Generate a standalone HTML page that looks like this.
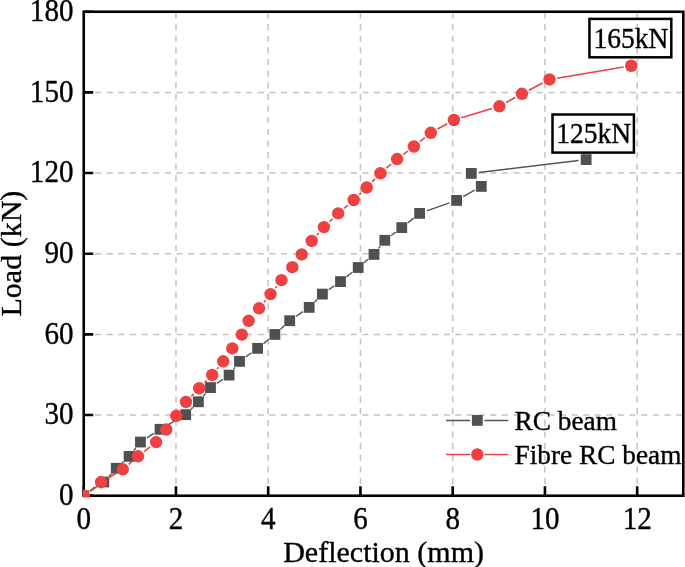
<!DOCTYPE html>
<html><head><meta charset="utf-8"><style>
html,body{margin:0;padding:0;background:#fff;}
svg{display:block;will-change:transform;}
text{font-family:"Liberation Serif",serif;fill:#000;stroke:#000;stroke-width:0.35px;}
</style></head><body>
<svg width="685" height="567" viewBox="0 0 685 567">
<defs><clipPath id="c"><rect x="82.9" y="10" width="601.6" height="487.2"/></clipPath></defs>
<g stroke="#C3C3C3" stroke-width="1.5" fill="none"><line x1="175.97" y1="12.35" x2="175.97" y2="495.74" stroke-dasharray="6.2 5.44"/><line x1="268.21" y1="12.35" x2="268.21" y2="495.74" stroke-dasharray="6.2 5.44"/><line x1="360.45" y1="12.35" x2="360.45" y2="495.74" stroke-dasharray="6.2 5.44"/><line x1="452.70" y1="12.35" x2="452.70" y2="495.74" stroke-dasharray="6.2 5.44"/><line x1="544.94" y1="12.35" x2="544.94" y2="495.74" stroke-dasharray="6.2 5.44"/><line x1="637.18" y1="12.35" x2="637.18" y2="495.74" stroke-dasharray="6.2 5.44"/><line x1="83.45" y1="415.07" x2="683.30" y2="415.07" stroke-dasharray="6.15 5.47"/><line x1="83.45" y1="334.41" x2="683.30" y2="334.41" stroke-dasharray="6.15 5.47"/><line x1="83.45" y1="253.74" x2="683.30" y2="253.74" stroke-dasharray="6.15 5.47"/><line x1="83.45" y1="173.07" x2="683.30" y2="173.07" stroke-dasharray="6.15 5.47"/><line x1="83.45" y1="92.41" x2="683.30" y2="92.41" stroke-dasharray="6.15 5.47"/></g>
<rect x="83.73" y="11.74" width="599.57" height="484.00" fill="none" stroke="#000" stroke-width="2.6"/>
<path d="M83.73 495.74V486.24M175.97 495.74V486.24M268.21 495.74V486.24M360.45 495.74V486.24M452.70 495.74V486.24M544.94 495.74V486.24M637.18 495.74V486.24M83.73 495.74H93.23M83.73 415.07H93.23M83.73 334.41H93.23M83.73 253.74H93.23M83.73 173.07H93.23M83.73 92.41H93.23M83.73 11.74H93.23" stroke="#000" stroke-width="2.6" fill="none"/>
<g font-size="30"><text transform="translate(83.73 529.1) scale(0.97,1.03)" text-anchor="middle">0</text><text transform="translate(175.97 529.1) scale(0.97,1.03)" text-anchor="middle">2</text><text transform="translate(268.21 529.1) scale(0.97,1.03)" text-anchor="middle">4</text><text transform="translate(360.45 529.1) scale(0.97,1.03)" text-anchor="middle">6</text><text transform="translate(452.70 529.1) scale(0.97,1.03)" text-anchor="middle">8</text><text transform="translate(544.94 529.1) scale(0.97,1.03)" text-anchor="middle">10</text><text transform="translate(637.18 529.1) scale(0.97,1.03)" text-anchor="middle">12</text><text transform="translate(73.5 505.04) scale(0.97,1.03)" text-anchor="end">0</text><text transform="translate(73.5 424.37) scale(0.97,1.03)" text-anchor="end">30</text><text transform="translate(73.5 343.71) scale(0.97,1.03)" text-anchor="end">60</text><text transform="translate(73.5 263.04) scale(0.97,1.03)" text-anchor="end">90</text><text transform="translate(73.5 182.37) scale(0.97,1.03)" text-anchor="end">120</text><text transform="translate(73.5 101.71) scale(0.97,1.03)" text-anchor="end">150</text><text transform="translate(73.5 21.04) scale(0.97,1.03)" text-anchor="end">180</text></g>
<text x="383.6" y="562.1" font-size="30" text-anchor="middle">Deflection (mm)</text>
<text transform="translate(20.9 253.6) rotate(-90)" font-size="30" text-anchor="middle">Load (kN)</text>
<g clip-path="url(#c)"><path d="M90.00 491.45L97.53 486.29M108.92 476.39L111.18 473.91M121.87 463.13L123.53 461.57M133.81 450.44L135.74 448.01M146.82 437.91L153.68 433.44M166.65 425.53L179.10 418.42M191.04 409.24L193.06 407.21M203.33 396.02L205.57 393.38M216.81 383.36L222.79 379.34M233.68 369.04L234.92 367.41M245.67 356.92L251.43 352.78M263.52 343.59L268.98 339.21M280.47 329.28L284.13 325.87M295.98 316.42L302.92 311.68M314.55 302.01L317.05 299.49M328.65 289.78L334.25 285.92M346.44 276.86L352.26 272.24M364.05 262.65L368.15 259.25M378.62 248.37L380.18 246.33M390.88 235.74L395.67 232.16M407.70 222.87L413.65 218.13M426.77 210.88L449.43 202.92M463.21 196.65L474.69 190.15M478.85 172.49L578.60 160.51" stroke="#555555" stroke-width="1.4" fill="none"/><g fill="#505050"><rect x="78.33" y="490.34" width="10.8" height="10.8"/><rect x="98.40" y="476.60" width="10.8" height="10.8"/><rect x="110.90" y="462.90" width="10.8" height="10.8"/><rect x="123.70" y="451.00" width="10.8" height="10.8"/><rect x="135.05" y="436.65" width="10.8" height="10.8"/><rect x="154.65" y="423.90" width="10.8" height="10.8"/><rect x="180.30" y="409.25" width="10.8" height="10.8"/><rect x="193.00" y="396.40" width="10.8" height="10.8"/><rect x="205.10" y="382.20" width="10.8" height="10.8"/><rect x="223.70" y="369.70" width="10.8" height="10.8"/><rect x="234.10" y="355.95" width="10.8" height="10.8"/><rect x="252.20" y="342.95" width="10.8" height="10.8"/><rect x="269.50" y="329.05" width="10.8" height="10.8"/><rect x="284.30" y="315.30" width="10.8" height="10.8"/><rect x="303.80" y="302.00" width="10.8" height="10.8"/><rect x="317.00" y="288.70" width="10.8" height="10.8"/><rect x="335.10" y="276.20" width="10.8" height="10.8"/><rect x="352.80" y="262.10" width="10.8" height="10.8"/><rect x="368.60" y="249.00" width="10.8" height="10.8"/><rect x="379.40" y="234.90" width="10.8" height="10.8"/><rect x="396.35" y="222.20" width="10.8" height="10.8"/><rect x="414.20" y="208.00" width="10.8" height="10.8"/><rect x="451.20" y="195.00" width="10.8" height="10.8"/><rect x="475.90" y="181.00" width="10.8" height="10.8"/><rect x="465.90" y="168.00" width="10.8" height="10.8"/><rect x="580.75" y="154.20" width="10.8" height="10.8"/></g><path d="M89.84 490.97L94.95 486.96M107.72 478.23L116.09 473.26M128.65 464.27L132.10 461.33M144.10 451.52L150.05 446.88M191.34 396.38L193.81 393.82M204.62 382.71L206.78 380.49M217.06 368.92L218.34 367.33M263.91 302.27L265.64 300.13M275.30 288.01L276.70 286.24M316.82 235.13L318.78 232.92M329.50 221.74L332.60 218.76M344.06 208.33L347.84 205.07M359.29 194.63L361.11 192.87M372.07 181.91L375.03 178.84M386.30 168.23L391.20 164.07M403.31 154.41L407.69 151.14M419.92 141.62L424.78 137.68M437.58 129.04L447.12 123.76M461.32 117.77L491.98 108.53M506.17 102.54L515.13 97.56M528.78 90.22L542.62 83.03M557.14 78.17L623.56 67.03" stroke="#EF4141" stroke-width="1.6" fill="none"/><g fill="#EF4141"><circle cx="83.73" cy="495.74" r="6.2"/><circle cx="101.06" cy="482.19" r="6.2"/><circle cx="122.75" cy="469.30" r="6.2"/><circle cx="138.00" cy="456.30" r="6.2"/><circle cx="156.15" cy="442.10" r="6.2"/><circle cx="166.30" cy="429.50" r="6.2"/><circle cx="176.30" cy="415.80" r="6.2"/><circle cx="185.95" cy="401.95" r="6.2"/><circle cx="199.20" cy="388.25" r="6.2"/><circle cx="212.20" cy="374.95" r="6.2"/><circle cx="223.20" cy="361.30" r="6.2"/><circle cx="232.30" cy="348.40" r="6.2"/><circle cx="241.80" cy="334.60" r="6.2"/><circle cx="248.60" cy="320.80" r="6.2"/><circle cx="259.05" cy="308.30" r="6.2"/><circle cx="270.50" cy="294.10" r="6.2"/><circle cx="281.50" cy="280.15" r="6.2"/><circle cx="292.30" cy="267.20" r="6.2"/><circle cx="301.70" cy="254.45" r="6.2"/><circle cx="311.70" cy="240.95" r="6.2"/><circle cx="323.90" cy="227.10" r="6.2"/><circle cx="338.20" cy="213.40" r="6.2"/><circle cx="353.70" cy="200.00" r="6.2"/><circle cx="366.70" cy="187.50" r="6.2"/><circle cx="380.40" cy="173.25" r="6.2"/><circle cx="397.10" cy="159.05" r="6.2"/><circle cx="413.90" cy="146.50" r="6.2"/><circle cx="430.80" cy="132.80" r="6.2"/><circle cx="453.90" cy="120.00" r="6.2"/><circle cx="499.40" cy="106.30" r="6.2"/><circle cx="521.90" cy="93.80" r="6.2"/><circle cx="549.50" cy="79.45" r="6.2"/><circle cx="631.20" cy="65.75" r="6.2"/></g></g>
<path d="M446 420.5H470.15M484.45 420.5H508.2" stroke="#555555" stroke-width="1.4"/><rect x="471.90" y="415.00" width="10.8" height="10.8" fill="#505050"/><path d="M446 454.5H470.1M484.6 454.5H508.2" stroke="#EF4141" stroke-width="1.6"/><circle cx="477.3" cy="454.5" r="6.2" fill="#EF4141"/>
<g font-size="27.3"><text x="514.6" y="430">RC beam</text><text x="514.6" y="464.1">Fibre RC beam</text></g>
<rect x="589.45" y="18.9" width="81.85" height="38.4" fill="none" stroke="#000" stroke-width="2.5"/><rect x="552.5" y="114.5" width="81.4" height="38.1" fill="none" stroke="#000" stroke-width="2.5"/>
<g font-size="27.5"><text transform="translate(593.6 47.8) scale(1,1.05)">165kN</text><text transform="translate(556.3 142.5) scale(1,1.05)">125kN</text></g>
</svg></body></html>
